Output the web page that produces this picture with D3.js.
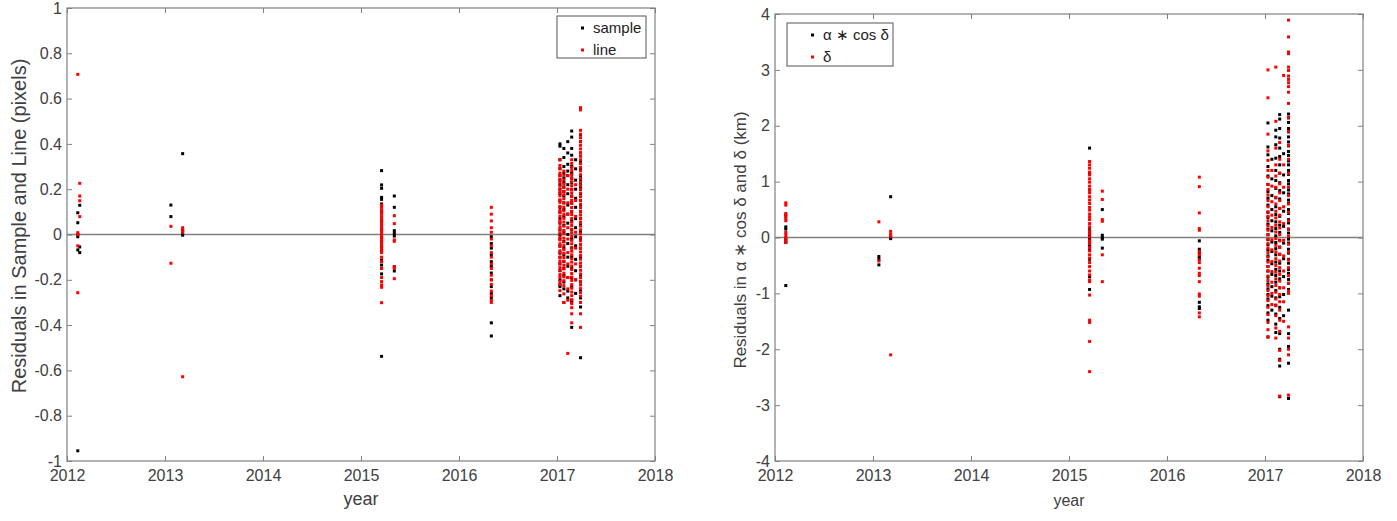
<!DOCTYPE html>
<html>
<head>
<meta charset="utf-8">
<script src="https://cdn.jsdelivr.net/npm/d3@7"></script>
<style>
  body { margin: 0; background: #fff; }
  svg { font-family: "Liberation Sans", Arial, Helvetica, sans-serif; }
  .tick text { fill: #404040; font-size: 16px; }
</style>
</head>
<body>
<svg id="chart" width="1397" height="521"></svg>
<script>
// observation epochs shared by both panels
var epochs = [2012.11, 2012.13, 2013.06, 2013.18, 2015.21, 2015.34, 2016.33,
  2017.03, 2017.07, 2017.11, 2017.15, 2017.19, 2017.24];

var yearTicks = [2012, 2013, 2014, 2015, 2016, 2017, 2018];
var pixelTicks = [-1, -0.8, -0.6, -0.4, -0.2, 0, 0.2, 0.4, 0.6, 0.8, 1];
var kmTicks = [-4, -3, -2, -1, 0, 1, 2, 3, 4];

// left panel: residuals in sample (black) and line (red), pixels
var sampleRes = [
  [0.096, 0.052, 0.0, -0.01, -0.068, -0.955],
  [0.129, -0.055, -0.08],
  [0.13, 0.079],
  [0.357, 0.02, 0.008, -0.003],
  [0.282, 0.219, 0.204, 0.164, 0.155, 0.135, 0.1, 0.06, 0.02, -0.014, -0.03, -0.054, -0.07, -0.113, -0.135, -0.15, -0.174, -0.538],
  [0.17, 0.12, 0.017, 0.005, -0.007, -0.142, -0.161],
  [-0.01, -0.04, -0.06, -0.09, -0.12, -0.14, -0.17, -0.2, -0.23, -0.26, -0.28, -0.39, -0.448],
  [0.4, 0.39, 0.33, 0.29, 0.26, 0.24, 0.22, 0.2, 0.18, 0.15, 0.12, 0.1, 0.07, 0.05, 0.02, 0.0, -0.02, -0.05, -0.08, -0.1, -0.13, -0.16, -0.2, -0.22, -0.23, -0.27],
  [0.38, 0.34, 0.3, 0.27, 0.25, 0.23, 0.21, 0.19, 0.17, 0.14, 0.11, 0.08, 0.04, 0.01, -0.03, -0.06, -0.09, -0.12, -0.15, -0.18, -0.21, -0.24, -0.3],
  [0.41, 0.36, 0.31, 0.28, 0.26, 0.22, 0.18, 0.13, 0.09, 0.05, 0.0, -0.04, -0.1, -0.14, -0.19, -0.25, -0.28],
  [0.457, 0.43, 0.38, 0.35, 0.3, 0.27, 0.25, 0.23, 0.2, 0.17, 0.14, 0.1, 0.06, 0.02, -0.02, -0.06, -0.1, -0.15, -0.19, -0.23, -0.29, -0.3, -0.41],
  [0.33, 0.29, 0.24, 0.2, 0.16, 0.12, 0.07, 0.03, -0.01, -0.05, -0.11, -0.16, -0.2, -0.26],
  [0.44, 0.41, 0.36, 0.32, 0.29, 0.26, 0.24, 0.22, 0.21, 0.2, 0.18, 0.15, 0.13, 0.1, 0.07, 0.04, 0.01, -0.02, -0.06, -0.1, -0.14, -0.18, -0.21, -0.25, -0.28, -0.32, -0.544]
];

var lineRes = [
  [0.707, 0.008, 0.0, -0.05, -0.257],
  [0.226, 0.17, 0.149, 0.079],
  [0.036, -0.127],
  [0.03, 0.02, 0.01, -0.628],
  [0.13, 0.12, 0.108, 0.1, 0.091, 0.079, 0.07, 0.061, 0.049, 0.04, 0.03, 0.021, 0.009, 0.0, -0.011, -0.02, -0.031, -0.04, -0.05, -0.062, -0.07, -0.08, -0.1, -0.12, -0.15, -0.19, -0.208, -0.223, -0.233, -0.301],
  [0.083, 0.048, -0.024, -0.03, -0.142, -0.15, -0.195],
  [0.12, 0.09, 0.06, 0.03, 0.01, -0.02, -0.05, -0.08, -0.1, -0.13, -0.15, -0.18, -0.2, -0.22, -0.25, -0.27, -0.29, -0.3],
  [0.33, 0.305, 0.292, 0.271, 0.259, 0.243, 0.232, 0.214, 0.198, 0.186, 0.171, 0.153, 0.142, 0.124, 0.108, 0.097, 0.081, 0.063, 0.052, 0.034, 0.021, 0.006, -0.012, -0.024, -0.041, -0.053, -0.072, -0.084, -0.101, -0.117, -0.129, -0.146, -0.158, -0.177, -0.189, -0.207, -0.221, -0.248],
  [0.28, 0.262, 0.241, 0.223, 0.207, 0.19, 0.176, 0.158, 0.139, 0.121, 0.104, 0.088, 0.071, 0.055, 0.037, 0.018, 0.003, -0.016, -0.033, -0.049, -0.067, -0.083, -0.102, -0.118, -0.136, -0.152, -0.171, -0.187, -0.204, -0.226, -0.262, -0.3],
  [0.26, 0.2, 0.14, 0.09, 0.03, -0.02, -0.08, -0.13, -0.19, -0.24, -0.29, -0.525],
  [0.33, 0.314, 0.296, 0.282, 0.264, 0.247, 0.233, 0.216, 0.199, 0.184, 0.168, 0.151, 0.137, 0.119, 0.102, 0.088, 0.071, 0.054, 0.04, 0.023, 0.007, -0.009, -0.026, -0.041, -0.058, -0.074, -0.09, -0.107, -0.122, -0.139, -0.155, -0.172, -0.188, -0.203, -0.221, -0.237, -0.254, -0.27, -0.288, -0.305, -0.323, -0.35, -0.39],
  [0.22, 0.15, 0.08, 0.01, -0.06, -0.13, -0.2],
  [0.56, 0.55, 0.46, 0.443, 0.427, 0.41, 0.394, 0.378, 0.361, 0.345, 0.33, 0.313, 0.297, 0.281, 0.264, 0.248, 0.232, 0.216, 0.2, 0.183, 0.167, 0.151, 0.134, 0.118, 0.102, 0.086, 0.069, 0.053, 0.037, 0.021, 0.004, -0.012, -0.028, -0.044, -0.061, -0.077, -0.093, -0.109, -0.126, -0.142, -0.158, -0.174, -0.191, -0.207, -0.223, -0.239, -0.256, -0.272, -0.3, -0.35, -0.41]
];

// right panel: residuals in alpha*cos(delta) (black) and delta (red), km
var alphaRes = [
  [0.4, 0.19, 0.15, -0.02, -0.06, -0.09, -0.86],
  [],
  [-0.34, -0.39, -0.49],
  [0.73, 0.0, -0.02],
  [1.6, 1.15, 0.85, 0.14, 0.1, 0.06, 0.02, -0.02, -0.05, -0.08, -0.12, -0.16, -0.22, -0.39, -0.7, -0.93],
  [0.5, 0.04, 0.0, -0.03, -0.19],
  [-0.06, -0.21, -0.27, -0.34, -0.38, -1.16, -1.24, -1.27],
  [2.05, 1.62, 1.48, 1.27, 1.1, 0.95, 0.82, 0.7, 0.58, 0.45, 0.36, 0.24, 0.15, 0.05, -0.04, -0.13, -0.22, -0.33, -0.41, -0.52, -0.6, -0.71, -0.83, -0.92, -1.02, -1.1, -1.22, -1.35, -1.48, -1.78],
  [1.4, 1.05, 0.75, 0.5, 0.3, 0.12, -0.08, -0.25, -0.47, -0.66, -0.88, -1.05, -1.3],
  [1.92, 1.8, 1.66, 1.42, 1.2, 1.02, 0.88, 0.71, 0.55, 0.41, 0.28, 0.16, 0.03, -0.09, -0.2, -0.31, -0.44, -0.57, -0.68, -0.8, -0.95, -1.08, -1.21, -1.37, -1.55, -1.7],
  [2.2, 2.12, 1.95, 1.78, 1.6, 1.45, 1.3, 1.15, 0.98, 0.84, 0.69, 0.52, 0.38, 0.22, 0.09, -0.05, -0.17, -0.3, -0.46, -0.6, -0.74, -0.9, -1.06, -1.25, -1.45, -1.72, -2.0, -2.18, -2.3, -2.85],
  [1.5, 1.12, 0.8, 0.47, 0.2, -0.1, -0.38, -0.7, -1.02, -1.4],
  [2.21, 2.14, 2.06, 1.95, 1.89, 1.8, 1.71, 1.64, 1.54, 1.47, 1.37, 1.3, 1.2, 1.13, 1.02, 0.96, 0.85, 0.78, 0.67, 0.61, 0.5, 0.43, 0.32, 0.26, 0.15, 0.08, -0.03, -0.1, -0.21, -0.28, -0.39, -0.46, -0.57, -0.64, -0.75, -0.82, -0.93, -1.3, -1.72, -1.95, -2.25, -2.88]
];

var deltaRes = [
  [0.62, 0.58, 0.43, 0.38, 0.34, 0.3, 0.09, 0.05, 0.0, -0.05, -0.09],
  [],
  [0.28, -0.42],
  [0.11, 0.06, 0.02, -2.1],
  [1.36, 1.3, 1.24, 1.17, 1.12, 1.05, 0.99, 0.92, 0.86, 0.8, 0.73, 0.67, 0.61, 0.54, 0.49, 0.42, 0.37, 0.32, 0.25, 0.19, 0.12, 0.07, 0.01, -0.06, -0.11, -0.18, -0.24, -0.31, -0.37, -0.45, -0.52, -0.6, -0.67, -0.76, -0.79, -1.03, -1.48, -1.52, -1.86, -2.4],
  [0.83, 0.68, 0.32, 0.29, -0.31, -0.79],
  [1.08, 0.91, 0.44, 0.16, 0.13, -0.25, -0.31, -0.4, -0.45, -0.55, -0.64, -0.68, -0.79, -1.01, -1.05, -1.35, -1.42],
  [3.0, 2.5, 1.85, 1.55, 1.38, 1.2, 1.08, 0.95, 0.86, 0.76, 0.66, 0.55, 0.46, 0.38, 0.3, 0.21, 0.13, 0.05, -0.03, -0.11, -0.19, -0.27, -0.35, -0.44, -0.52, -0.6, -0.69, -0.77, -0.86, -0.95, -1.04, -1.13, -1.25, -1.38, -1.52, -1.65, -1.78],
  [1.2, 0.92, 0.64, 0.4, 0.18, -0.04, -0.22, -0.43, -0.61, -0.8, -1.0, -1.2],
  [3.05, 2.08, 1.6, 1.3, 1.1, 0.9, 0.72, 0.6, 0.47, 0.35, 0.22, 0.1, -0.02, -0.14, -0.26, -0.38, -0.5, -0.62, -0.74, -0.86, -0.98, -1.1, -1.22, -1.4, -1.62, -1.8],
  [1.7, 1.4, 1.15, 0.96, 0.8, 0.66, 0.52, 0.4, 0.28, 0.17, 0.05, -0.06, -0.18, -0.3, -0.42, -0.54, -0.66, -0.78, -0.9, -1.02, -1.15, -1.3, -1.48, -1.68, -2.02, -2.2, -2.84],
  [2.9, 1.3, 0.9, 0.55, 0.25, -0.05, -0.33, -0.6, -0.9, -1.15, -1.5],
  [3.89, 3.59, 3.32, 3.29, 3.05, 2.99, 2.89, 2.83, 2.77, 2.7, 2.6, 2.4, 2.15, 1.9, 1.65, 1.4, 1.15, 0.9, 0.75, 0.6, 0.45, 0.3, 0.15, 0.02, -0.12, -0.26, -0.4, -0.54, -0.68, -0.82, -0.96, -1.0, -1.6, -1.8, -2.0, -2.1, -2.82]
];

var svg = d3.select("#chart");
var axisGrey = "#808080";
var textGrey = "#404040";

// flatten one list-per-epoch into points
function toPoints(groups) {
  var pts = [];
  groups.forEach(function(vals, i) {
    vals.forEach(function(v) { pts.push({ t: epochs[i], v: v }); });
  });
  return pts;
}

function drawPanel(p) {
  var x = d3.scaleLinear().domain([2012, 2018]).range([p.left, p.right]);
  var y = d3.scaleLinear().domain(p.yDomain).range([p.bottom, p.top]);
  var g = svg.append("g");

  var fmt = function(d) { return String(+d.toFixed(1)); };

  // ticks on all four sides, pointing inward (MATLAB box style)
  var bx = g.append("g").attr("transform", `translate(0, ${p.bottom})`)
    .call(d3.axisBottom(x).tickValues(yearTicks).tickFormat(d3.format("d"))
      .tickSizeInner(-5).tickSizeOuter(0).tickPadding(9));
  var ly = g.append("g").attr("transform", `translate(${p.left}, 0)`)
    .call(d3.axisLeft(y).tickValues(p.yTicks).tickFormat(fmt)
      .tickSizeInner(-5).tickSizeOuter(0).tickPadding(5));
  var tx = g.append("g").attr("transform", `translate(0, ${p.top})`)
    .call(d3.axisTop(x).tickValues(yearTicks).tickFormat("")
      .tickSizeInner(-5).tickSizeOuter(0));
  var ry = g.append("g").attr("transform", `translate(${p.right}, 0)`)
    .call(d3.axisRight(y).tickValues(p.yTicks).tickFormat("")
      .tickSizeInner(-5).tickSizeOuter(0));
  [bx, ly, tx, ry].forEach(function(a) {
    a.select(".domain").remove();
    a.selectAll(".tick line").attr("stroke", axisGrey);
  });

  // zero reference line
  g.append("line")
    .attr("x1", p.left).attr("x2", p.right)
    .attr("y1", y(0)).attr("y2", y(0))
    .attr("stroke", axisGrey).attr("stroke-width", 1.3);

  // frame
  g.append("rect")
    .attr("x", p.left).attr("y", p.top)
    .attr("width", p.right - p.left).attr("height", p.bottom - p.top)
    .attr("fill", "none").attr("stroke", axisGrey).attr("stroke-width", 1.2);

  // markers: black series first, red on top
  p.series.forEach(function(s) {
    g.append("g").selectAll("rect")
      .data(toPoints(s.data))
      .enter()
      .append("rect")
      .attr("x", d => x(d.t) - 1.5)
      .attr("y", d => y(d.v) - 1.5)
      .attr("width", 3)
      .attr("height", 3)
      .attr("fill", s.color);
  });

  // axis titles
  g.append("text")
    .attr("x", (p.left + p.right) / 2).attr("y", p.xLabelY)
    .attr("text-anchor", "middle")
    .attr("font-size", p.xLabelSize)
    .attr("fill", textGrey)
    .text("year");

  g.append("text")
    .attr("transform", `translate(${p.yLabelX}, ${p.yLabelMid}) rotate(-90)`)
    .attr("text-anchor", "middle")
    .attr("font-size", p.yLabelSize)
    .attr("fill", textGrey)
    .text(p.yLabel);

  // legend
  var lg = g.append("g");
  lg.append("rect")
    .attr("x", p.legend.x).attr("y", p.legend.y)
    .attr("width", p.legend.w).attr("height", p.legend.h)
    .attr("fill", "#fff").attr("stroke", "#555").attr("stroke-width", 1);
  p.series.forEach(function(s, i) {
    var cy = p.legend.y + 12 + i * 22;
    lg.append("rect")
      .attr("x", p.legend.x + 24).attr("y", cy - 1.5)
      .attr("width", 3).attr("height", 3)
      .attr("fill", s.color);
    lg.append("text")
      .attr("x", p.legend.x + 36).attr("y", cy + 5)
      .attr("font-size", 15)
      .attr("fill", "#222")
      .text(s.name);
  });
}

drawPanel({
  left: 67, right: 655, top: 8, bottom: 461,
  yDomain: [-1, 1], yTicks: pixelTicks,
  yLabel: "Residuals in Sample and Line (pixels)",
  yLabelX: 26, yLabelMid: 226, yLabelSize: 20,
  xLabelY: 505, xLabelSize: 18,
  legend: { x: 557, y: 16, w: 89, h: 42 },
  series: [
    { name: "sample", color: "#000", data: sampleRes },
    { name: "line", color: "#f00", data: lineRes }
  ]
});

drawPanel({
  left: 775, right: 1363, top: 14, bottom: 461,
  yDomain: [-4, 4], yTicks: kmTicks,
  yLabel: "Residuals in \u03b1 \u2217 cos \u03b4 and \u03b4 (km)",
  yLabelX: 746, yLabelMid: 240, yLabelSize: 17,
  xLabelY: 506, xLabelSize: 16,
  legend: { x: 787, y: 23, w: 106, h: 43 },
  series: [
    { name: "\u03b1 \u2217 cos \u03b4", color: "#000", data: alphaRes },
    { name: "\u03b4", color: "#f00", data: deltaRes }
  ]
});
</script>
</body>
</html>
